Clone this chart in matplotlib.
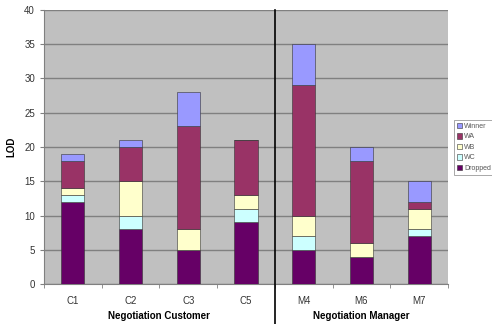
import numpy as np
import matplotlib
matplotlib.use("Agg")
import matplotlib.pyplot as plt

# data
categories = ["C1", "C2", "C3", "C5", "M4", "M6", "M7"]
dropped = [12, 8, 5, 9, 5, 4, 7]
wc = [1, 2, 0, 2, 2, 0, 1]
wb = [1, 5, 3, 2, 3, 2, 3]
wa = [4, 5, 15, 8, 19, 12, 1]
winner = [1, 1, 5, 0, 6, 2, 3]
groups = ["Negotiation Customer", "Negotiation Manager"]
group_sizes = [4, 3]

series = [("Dropped", dropped, "#660066"),
          ("WC", wc, "#CCFFFF"),
          ("WB", wb, "#FFFFCC"),
          ("WA", wa, "#993366"),
          ("Winner", winner, "#9999FF")]

plt.rcParams["font.family"] = ["Liberation Sans", "DejaVu Sans"]

fig = plt.figure(figsize=(4.92, 3.24), dpi=100)
ax = fig.add_axes([44 / 492, 40 / 324, 404 / 492, 274 / 324])
ax.set_facecolor("#C0C0C0")

x = np.arange(len(categories))
bottom = np.zeros(len(categories))
handles = []
for name, vals, col in series:
    h = ax.bar(x, vals, 0.4, bottom=bottom, color=col,
               edgecolor="#333333", linewidth=0.4, zorder=3, label=name)
    handles.append(h)
    bottom += np.array(vals)

ax.set_xlim(-0.5, len(categories) - 0.5)
ax.set_ylim(0, 40)
ax.set_yticks(range(0, 41, 5))
ax.yaxis.grid(True, color="#808080", linewidth=1.0, zorder=0)
ax.set_axisbelow(True)

ax.set_xticks(x)
ax.set_xticklabels(categories, fontsize=7, color="#333333")
ax.set_xticks(np.arange(-0.5, len(categories), 1), minor=True)
ax.tick_params(axis="x", which="major", length=0, pad=9)
ax.tick_params(axis="x", which="minor", length=3, color="#808080")
ax.tick_params(axis="y", labelsize=7, length=3, color="#808080", labelcolor="#333333")

for s in ["top", "right"]:
    ax.spines[s].set_visible(False)
for s in ["left", "bottom"]:
    ax.spines[s].set_color("#808080")

ax.set_ylabel("LOD", fontsize=7, fontweight="bold", labelpad=6)

# group labels and separator
start = 0
for g, n in zip(groups, group_sizes):
    center = start + (n - 1) / 2
    ax.text(center, -0.115, g, transform=ax.get_xaxis_transform(),
            ha="center", va="center", fontsize=7, fontweight="bold")
    start += n
sep = group_sizes[0] - 0.5
ax.plot([sep, sep], [1.0, -0.2], transform=ax.get_xaxis_transform(),
        color="black", linewidth=1.2, clip_on=False, zorder=5)

leg = fig.legend(handles[::-1], [s[0] for s in series][::-1],
                 loc="upper left", bbox_to_anchor=(454 / 492, 1 - 120 / 324),
                 fontsize=5, frameon=True, fancybox=False, edgecolor="#808080",
                 handlelength=0.8, handleheight=0.8, handletextpad=0.3,
                 labelspacing=0.5, borderpad=0.4, borderaxespad=0)
leg.get_frame().set_linewidth(0.6)
for t in leg.get_texts():
    t.set_color("#555555")

fig.savefig("out.png", dpi=100)
